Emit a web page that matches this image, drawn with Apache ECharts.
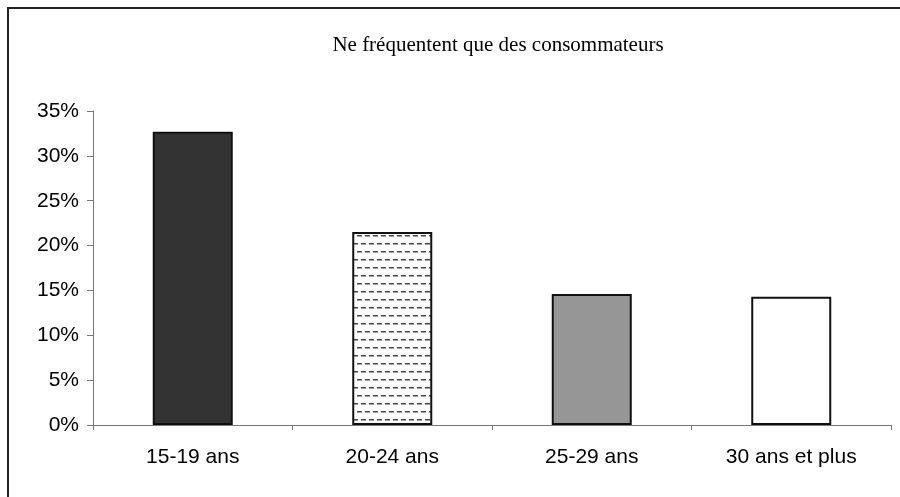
<!DOCTYPE html>
<html>
<head>
<meta charset="utf-8">
<script src="https://cdn.jsdelivr.net/npm/echarts@6/dist/echarts.min.js"></script>
<style>
  html, body { margin: 0; padding: 0; background: #fff; }
  #chart { width: 900px; height: 497px; }
</style>
</head>
<body>
<div id="chart"></div>
<script>
const titleText = 'Ne fréquentent que des consommateurs';
const categories = ['15-19 ans', '20-24 ans', '25-29 ans', '30 ans et plus'];
const values = [32.7, 21.5, 14.6, 14.3];
const yTicks = [0, 5, 10, 15, 20, 25, 30, 35];

// dashed horizontal fill for the second bar
function dashPattern() {
  var c = document.createElement('canvas');
  c.width = 8;
  c.height = 16;
  var ctx = c.getContext('2d');
  ctx.fillStyle = '#fff';
  ctx.fillRect(0, 0, 8, 16);
  ctx.fillStyle = '#444';
  ctx.fillRect(1, 3, 5, 1.5);
  ctx.fillRect(5, 11, 3, 1.5);
  ctx.fillRect(0, 11, 2, 1.5);
  return c;
}

const fills = ['#333333', { image: dashPattern(), repeat: 'repeat' }, '#969696', '#ffffff'];

var chart = echarts.init(document.getElementById('chart'));
chart.setOption({
  animation: false,
  backgroundColor: '#fff',
  title: {
    text: titleText,
    left: 493,
    textAlign: 'center',
    top: 30,
    textStyle: {
      fontFamily: 'Liberation Serif',
      fontWeight: 'normal',
      fontSize: 21,
      color: '#000'
    }
  },
  graphic: [{
    type: 'rect',
    shape: { x: 8, y: 8, width: 920, height: 520 },
    style: { fill: 'none', stroke: '#222', lineWidth: 2 },
    silent: true
  }],
  grid: { left: 93, right: 9, top: 111, bottom: 72 },
  xAxis: {
    type: 'category',
    data: categories,
    axisLine: { lineStyle: { color: '#777', width: 1 } },
    axisTick: { show: true, alignWithLabel: false, length: 5, inside: false, lineStyle: { color: '#777' } },
    axisLabel: {
      margin: 22,
      fontFamily: 'Liberation Sans',
      fontSize: 21,
      color: '#000'
    }
  },
  yAxis: {
    type: 'value',
    min: yTicks[0],
    max: yTicks[yTicks.length - 1],
    interval: 5,
    splitLine: { show: false },
    axisLine: { show: true, lineStyle: { color: '#777', width: 1 } },
    axisTick: { show: true, length: 6, lineStyle: { color: '#777' } },
    axisLabel: {
      margin: 14,
      formatter: '{value}%',
      fontFamily: 'Liberation Sans',
      fontSize: 21,
      color: '#000'
    }
  },
  series: [{
    type: 'bar',
    barWidth: 80,
    data: values.map(function (v, i) {
      return {
        value: v,
        itemStyle: { color: fills[i], borderColor: '#111', borderWidth: 2 }
      };
    })
  }]
});
</script>
</body>
</html>
